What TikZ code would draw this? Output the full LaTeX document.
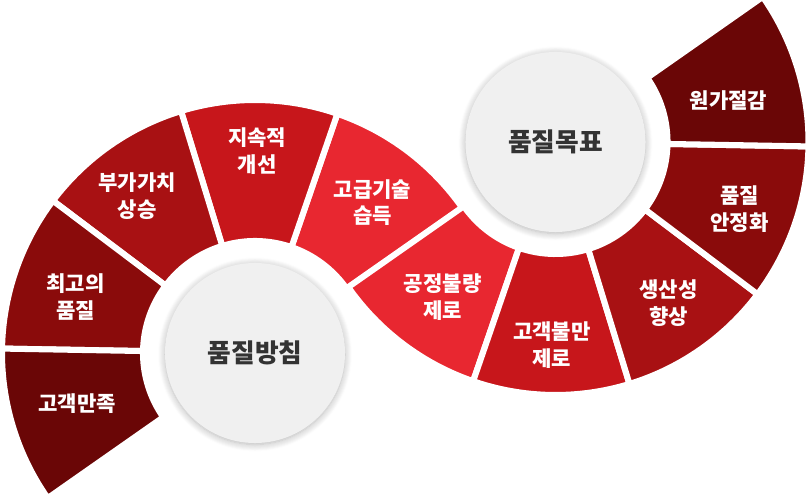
\documentclass[tikz,border=0pt]{standalone}
\usepackage{fontspec}
\usepackage{tikz}
\usetikzlibrary{calc,shadows.blur}
\newfontfamily\kr{Noto Sans CJK KR}
\definecolor{segA}{RGB}{106,6,6}
\definecolor{segB}{RGB}{138,11,11}
\definecolor{segC}{RGB}{168,17,19}
\definecolor{segD}{RGB}{199,22,27}
\definecolor{segE}{RGB}{232,39,48}
\definecolor{hubfill}{RGB}{240,240,240}
\definecolor{hubtext}{RGB}{51,51,51}

\begin{document}
\begin{tikzpicture}[x=0.025cm, y=0.025cm,
  seg/.style={fill=#1, draw=white, line width=4.3pt},
  lbl/.style={text=white, align=center, font=\kr\bfseries\fontsize{15}{19}\selectfont},
  hub/.style={circle, fill=hubfill, minimum size=4.5cm, inner sep=0pt, text=hubtext,
              font=\kr\bfseries\fontsize{18.3}{22}\selectfont,
              blur shadow={shadow blur steps=8, shadow xshift=0pt, shadow yshift=-1pt,
                           shadow blur radius=5pt, shadow opacity=30}}]
  \useasboundingbox (0,0) rectangle (810,500);
  \coordinate (L) at (255,147);
  \coordinate (R) at (555.5,358);
  % ring sectors: left half-ring and its mirror round the right hub
  \foreach \a/\c in {35/segE, 71/segD, 107/segC, 143/segB, 179/segA}{
    \filldraw[seg=\c] ($(L)+(\a:112)$) arc[start angle=\a, end angle=\a+36, radius=112]
      -- ($(L)+(\a+36:253)$) arc[start angle=\a+36, end angle=\a, radius=253] -- cycle;
    \filldraw[seg=\c] ($(R)+(\a+180:112)$) arc[start angle=\a+180, end angle=\a+216, radius=112]
      -- ($(R)+(\a+216:253)$) arc[start angle=\a+216, end angle=\a+180, radius=253] -- cycle;
  }
  \node[hub] (policy) at (L) {품질방침};
  \node[hub] (target) at (R) {품질목표};
  % left ring labels
  \node[lbl] (skill)   at ($(L)+(52:191)$)   {고급기술\\습득};
  \node[lbl] (improve) at ($(L)+(89.4:202)$) {지속적\\개선};
  \node[lbl] (value)   at ($(L)+(127:196)$)  {부가가치\\상승};
  \node[lbl] (best)    at ($(L)+(162.6:188)$) {최고의\\품질};
  \node[lbl] (satisfy) at ($(L)+(196:185)$)  {고객만족};
  % right ring labels
  \node[lbl] (defect)  at ($(R)+(234:192)$)  {공정불량\\제로};
  \node[lbl] (claim)   at ($(R)+(269:203)$)  {고객불만\\제로};
  \node[lbl] (output)  at ($(R)+(305:197)$)  {생산성\\향상};
  \node[lbl] (stable)  at ($(R)+(340:196)$)  {품질\\안정화};
  \node[lbl] (cost)    at ($(R)+(13.6:178)$) {원가절감};
\end{tikzpicture}
\end{document}
